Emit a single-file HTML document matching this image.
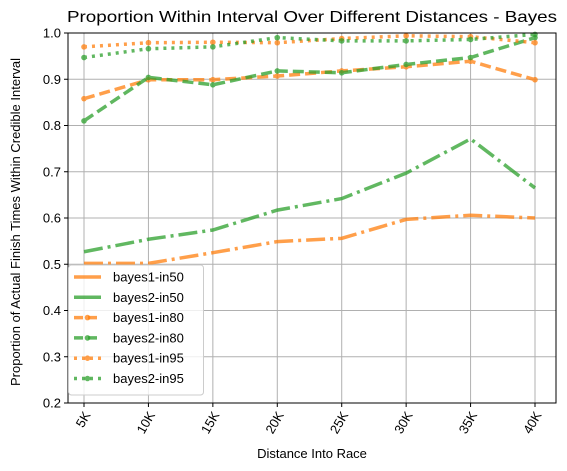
<!DOCTYPE html>
<html><head><meta charset="utf-8"><style>
html,body{margin:0;padding:0;background:#fff;}
svg{display:block;font-family:"Liberation Sans","DejaVu Sans",sans-serif;}
</style></head><body>
<svg id="chart" width="567" height="471" viewBox="0 0 567 471">
<rect width="567" height="471" fill="#fff"/>
<g id="grid"></g>
<g id="series"></g>
<rect x="68" y="33" width="488" height="370" fill="none" stroke="#000" stroke-width="1"/>
<g id="ticks" font-size="13" fill="#000"></g>
<text x="312" y="22" text-anchor="middle" font-size="16" textLength="490" lengthAdjust="spacingAndGlyphs">Proportion Within Interval Over Different Distances - Bayes</text>
<text x="312" y="458" text-anchor="middle" font-size="13">Distance Into Race</text>
<text transform="translate(20,222) rotate(-90)" text-anchor="middle" font-size="13">Proportion of Actual Finish Times Within Credible Interval</text>
<g id="legend"></g>
</svg>
<script>
const categories = ["5K","10K","15K","20K","25K","30K","35K","40K"];
const yTicks = [0.2,0.3,0.4,0.5,0.6,0.7,0.8,0.9,1.0];
const bayes1In50 = [0.502,0.502,0.525,0.549,0.556,0.597,0.606,0.600];
const bayes2In50 = [0.527,0.554,0.574,0.617,0.642,0.697,0.771,0.665];
const bayes1In80 = [0.858,0.899,0.899,0.907,0.918,0.927,0.939,0.899];
const bayes2In80 = [0.810,0.904,0.888,0.918,0.914,0.932,0.947,0.990];
const bayes1In95 = [0.970,0.979,0.980,0.979,0.988,0.994,0.992,0.979];
const bayes2In95 = [0.947,0.966,0.970,0.990,0.983,0.983,0.986,0.997];

const NS="http://www.w3.org/2000/svg";
const X0=84, X1=535, Y0=403, Y1=33, VMIN=0.2, VMAX=1.0;
const xScale=i=>X0+(X1-X0)*i/(categories.length-1);
const yScale=v=>Y0-(v-VMIN)/(VMAX-VMIN)*(Y0-Y1);
function mk(tag,attrs,parent){const e=document.createElementNS(NS,tag);for(const k in attrs)e.setAttribute(k,attrs[k]);parent.appendChild(e);return e;}
const grid=document.getElementById('grid'), ticks=document.getElementById('ticks'), ser=document.getElementById('series'), leg=document.getElementById('legend');

categories.forEach((c,i)=>{
  const x=xScale(i);
  const g=mk('line',{x1:x,x2:x,y1:Y1,y2:Y0,stroke:'#b0b0b0','stroke-width':1},grid);
  
  
  mk('line',{x1:x,x2:x,y1:Y0,y2:Y0+4,stroke:'#000'},ticks);
  const t=mk('text',{transform:`translate(${x+4},${Y0+10}) rotate(-60)`,'text-anchor':'end','dominant-baseline':'middle'},ticks);
  t.textContent=c;
  
  
});
yTicks.forEach(v=>{
  const y=yScale(v);
  const g=mk('line',{x1:68,x2:556,y1:y,y2:y,stroke:'#b0b0b0','stroke-width':1},grid);
  
  
  mk('line',{x1:64,x2:68,y1:y,y2:y,stroke:'#000'},ticks);
  const t=mk('text',{x:61,y:y+4.5,'text-anchor':'end'},ticks);
  t.textContent=v.toFixed(1);
  
  
});

const OR='#ff7f0e', GR='#2ca02c';
const series=[
 {name:'bayes1-in50',data:bayes1In50,color:OR,dash:'19,5,3,5',marker:false},
 {name:'bayes2-in50',data:bayes2In50,color:GR,dash:'19,5,3,5',marker:false},
 {name:'bayes1-in80',data:bayes1In80,color:OR,dash:'11,5',marker:true},
 {name:'bayes2-in80',data:bayes2In80,color:GR,dash:'11,5',marker:true},
 {name:'bayes1-in95',data:bayes1In95,color:OR,dash:'3,5',marker:true},
 {name:'bayes2-in95',data:bayes2In95,color:GR,dash:'3,5',marker:true}
];
series.forEach(s=>{
  const g=mk('g',{opacity:0.75},ser);
  
  
  const pts=s.data.map((v,i)=>xScale(i)+','+yScale(v)).join(' ');
  const p=mk('polyline',{points:pts,fill:'none',stroke:s.color,'stroke-width':3.5,'stroke-dasharray':s.dash},g);
  
  
  if(s.marker){s.data.forEach((v,i)=>{
    const c=mk('circle',{cx:xScale(i),cy:yScale(v),r:2.8,fill:s.color},g);
    
    
  });}
});

const box=mk('rect',{x:68.5,y:265,width:135,height:130,rx:3,fill:'#fff','fill-opacity':0.8,stroke:'#ccc'},leg);


series.forEach((s,i)=>{
  const y=277+i*20.3;
  const g=mk('g',{},leg);
  
  
  const ld = i<2 ? 'none' : (i<4 ? '9,5' : '3,5');
  mk('line',{x1:74,x2:101,y1:y,y2:y,stroke:s.color,'stroke-width':3.5,'stroke-dasharray':ld,opacity:0.75},g);
  if(s.marker) mk('circle',{cx:87.5,cy:y,r:2.8,fill:s.color,opacity:0.75},g);
  const t=mk('text',{x:113,y:y+4.5,'font-size':13},g);
  t.textContent=s.name;
});
</script>
</body></html>
